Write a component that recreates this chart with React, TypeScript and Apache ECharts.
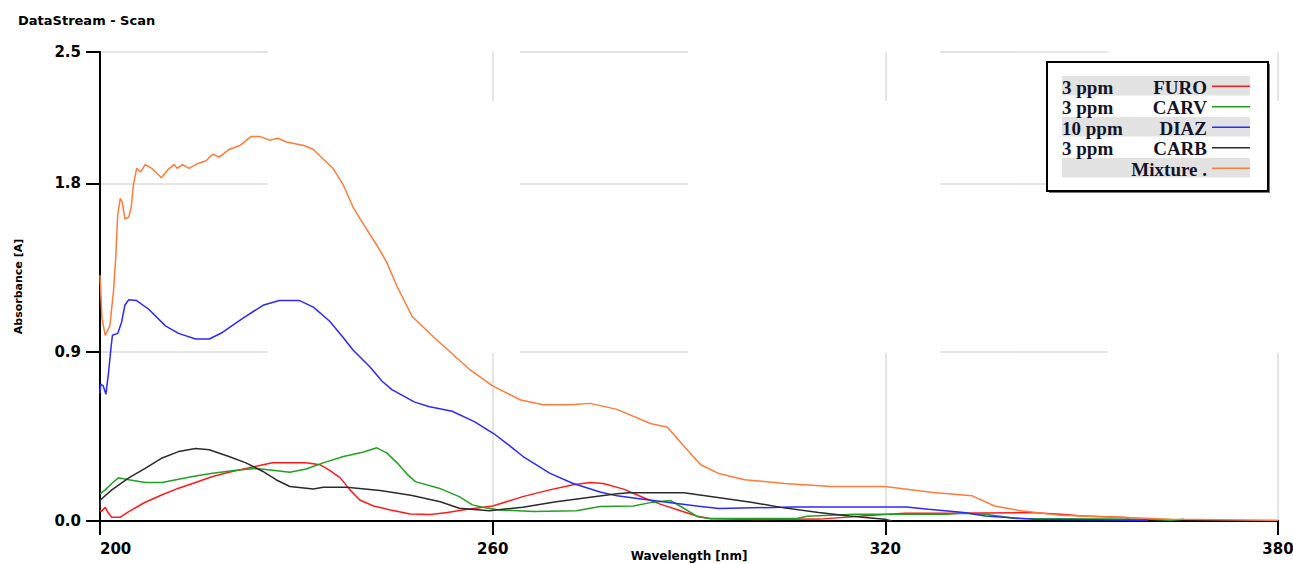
import React, { useEffect, useRef } from "react";
import * as echarts from "echarts";

const xTicks = [200, 260, 320, 380];
const yTickValues = [0, 0.9, 1.8, 2.5];

const seriesNames = ["3 ppm FURO", "3 ppm CARV", "10 ppm DIAZ", "3 ppm CARB", "Mixture ."];
const legendDose = ["3 ppm", "3 ppm", "10 ppm", "3 ppm", ""];
const legendName = ["FURO", "CARV", "DIAZ", "CARB", "Mixture ."];
const seriesColors = ["#ff1a1a", "#22a022", "#2a2aff", "#2b2b2b", "#ff7b3a"];

const furo: [number, number][] = [
  [200, 0.059], [200.15, 0.05], [200.8, 0.073], [201.3, 0.041], [201.8, 0.02], [203.1, 0.02],
  [204.4, 0.05], [206.9, 0.1], [209.5, 0.14], [212, 0.175], [214.6, 0.205], [217.2, 0.237],
  [219.7, 0.26], [222.3, 0.28], [224.9, 0.3], [226.4, 0.31], [231.5, 0.31], [233.6, 0.3],
  [235.1, 0.27], [236.7, 0.23], [238.2, 0.166], [239.7, 0.112], [241.8, 0.08], [244.4, 0.059],
  [247.4, 0.037], [250.5, 0.035], [253.1, 0.045], [255.4, 0.059], [260, 0.08], [264.6, 0.13],
  [268.7, 0.166], [272.3, 0.193], [274.9, 0.205], [276.9, 0.2], [280, 0.17], [283, 0.125],
  [285.6, 0.09], [289.4, 0.047], [291.3, 0.025], [293.3, 0.012], [300, 0.008], [310, 0.01],
  [318, 0.03], [323, 0.041], [329.3, 0.041], [342, 0.045], [346.8, 0.036], [350.1, 0.027],
  [356.8, 0.018], [357.5, 0.004],
];

const carv: [number, number][] = [
  [200, 0.145], [200.8, 0.166], [201.8, 0.2], [202.8, 0.23], [204.4, 0.22], [206.9, 0.205],
  [209.5, 0.205], [212, 0.223], [214.6, 0.24], [217.2, 0.255], [220.8, 0.27], [223.8, 0.28],
  [226.4, 0.27], [229, 0.26], [231.5, 0.277], [234.1, 0.31], [237.2, 0.344], [240.3, 0.368],
  [242.3, 0.39], [243.8, 0.363], [245.4, 0.31], [246.9, 0.25], [248.2, 0.21], [251.8, 0.175],
  [254.9, 0.13], [256.9, 0.086], [258.5, 0.073], [261, 0.059], [266.2, 0.05], [272.8, 0.055],
  [276.4, 0.077], [281.5, 0.08], [284.1, 0.098], [287.2, 0.109], [289.2, 0.068], [291.3, 0.023],
  [293.3, 0.013], [306.5, 0.013], [308, 0.025], [315.2, 0.036], [329.3, 0.036], [332, 0.041],
  [335.3, 0.036], [340, 0.013], [360.2, 0.009], [363.6, 0.004], [365.6, 0.009],
];

const diaz: [number, number][] = [
  [200, 0.68], [200.1, 0.73], [200.5, 0.72], [200.9, 0.675], [201.3, 0.79], [201.7, 0.93],
  [201.9, 0.99], [202.7, 1.0], [203.3, 1.06], [203.8, 1.15], [204.4, 1.18], [205.6, 1.175],
  [207.4, 1.13], [210, 1.04], [212, 1.0], [214.6, 0.97], [216.7, 0.97], [218.7, 1.005],
  [221.8, 1.08], [224.9, 1.15], [227.4, 1.175], [230.5, 1.175], [232.6, 1.14], [235.1, 1.065],
  [237, 0.985], [238.7, 0.91], [241.3, 0.82], [243.1, 0.745], [244.6, 0.7], [246.2, 0.67],
  [248, 0.635], [250.2, 0.61], [253.8, 0.585], [257.2, 0.53], [260.2, 0.465], [263, 0.39],
  [264.6, 0.345], [268.7, 0.255], [272.3, 0.2], [276.4, 0.155], [279, 0.134], [283, 0.116],
  [291.5, 0.078], [294.6, 0.066], [305.8, 0.075], [323.2, 0.075], [326.6, 0.0625], [332, 0.045],
  [335.3, 0.027], [342.7, 0.009], [360.2, 0.004],
];

const carb: [number, number][] = [
  [200, 0.07], [200.05, 0.112], [201.8, 0.166], [204.4, 0.23], [206.9, 0.28], [209.5, 0.336],
  [212, 0.37], [214.6, 0.386], [216.7, 0.38], [219.7, 0.344], [222.3, 0.31], [224.9, 0.264],
  [226.9, 0.22], [229, 0.184], [232.6, 0.17], [234.1, 0.18], [237.7, 0.18], [242.8, 0.162],
  [247.5, 0.137], [252, 0.103], [254.9, 0.068], [259.5, 0.055], [264.6, 0.073], [269.7, 0.103],
  [274.9, 0.127], [279, 0.145], [280.9, 0.15], [289.2, 0.15], [293.3, 0.13], [299.5, 0.1],
  [304.5, 0.07], [309.8, 0.045], [314.5, 0.027], [319.9, 0.009], [321, 0.0],
];

const mixture: [number, number][] = [
  [200, 1.31], [200.3, 1.08], [200.8, 0.99], [201.5, 1.04], [202.05, 1.22], [202.4, 1.4],
  [202.7, 1.63], [203.1, 1.72], [203.4, 1.7], [203.8, 1.61], [204.4, 1.62], [204.8, 1.68],
  [205.1, 1.79], [205.6, 1.88], [206.2, 1.86], [206.9, 1.9], [207.9, 1.88], [209.4, 1.83],
  [210.3, 1.87], [211.3, 1.9], [211.8, 1.88], [212.6, 1.9], [213.6, 1.88], [214.6, 1.9],
  [216.2, 1.92], [217.2, 1.955], [218.2, 1.94], [219.7, 1.98], [221.3, 2.0], [223.1, 2.05],
  [224.4, 2.05], [225.9, 2.03], [227.2, 2.04], [228.5, 2.02], [230, 2.01], [231.3, 2.0],
  [232.6, 1.98], [234.1, 1.93], [235.6, 1.88], [237.2, 1.79], [238.7, 1.67], [240.3, 1.58],
  [242.3, 1.47], [243.8, 1.38], [245.4, 1.25], [247.7, 1.09], [251.3, 0.97], [256.4, 0.81],
  [260, 0.72], [264.3, 0.645], [267.7, 0.62], [272, 0.62], [274.9, 0.627], [279, 0.595],
  [284.1, 0.52], [286.7, 0.5], [289.2, 0.4], [291.8, 0.3], [294.4, 0.255], [298.5, 0.22],
  [304.6, 0.2], [311.8, 0.184], [319.9, 0.184], [327.3, 0.152], [333.3, 0.134], [336.7, 0.08],
  [340.7, 0.054], [346.8, 0.03], [356.8, 0.018], [363.6, 0.009], [380, 0.004],
];

const allSeries = [furo, carv, diaz, carb, mixture];

export default function App() {
  const ref = useRef<HTMLDivElement>(null);
  useEffect(() => {
    if (!ref.current) return;
    const chart = echarts.init(ref.current, undefined, { renderer: "svg" });

    const rowTop = 76;
    const rowH = 20.5;
    const legendGraphics: any[] = [
      { type: "rect", shape: { x: 1049, y: 64, width: 221, height: 129 }, style: { fill: "#777" }, z: 10 },
      { type: "rect", shape: { x: 1047, y: 62, width: 221, height: 129 }, style: { fill: "#fff", stroke: "#000", lineWidth: 2 }, z: 11 },
    ];
    legendName.forEach((nm, i) => {
      const cy = rowTop + i * rowH + rowH / 2;
      if (i % 2 === 0) {
        legendGraphics.push({
          type: "rect",
          shape: { x: 1062, y: rowTop + i * rowH, width: 188, height: rowH - 1 },
          style: { fill: "#e2e2e2" },
          z: 12,
        });
      }
      if (legendDose[i]) {
        legendGraphics.push({
          type: "text",
          x: 1062,
          y: cy + 1,
          style: { text: legendDose[i], font: "bold 19px 'Liberation Serif', serif", fill: "#141428", textVerticalAlign: "middle", textAlign: "left" },
          z: 13,
        });
      }
      legendGraphics.push({
        type: "text",
        x: 1207,
        y: cy + 1,
        style: { text: nm, font: "bold 19px 'Liberation Serif', serif", fill: "#141428", textVerticalAlign: "middle", textAlign: "right" },
        z: 13,
      });
      legendGraphics.push({
        type: "line",
        shape: { x1: 1212, y1: cy, x2: 1250, y2: cy },
        style: { stroke: seriesColors[i], lineWidth: 1.5 },
        z: 13,
      });
    });

    chart.setOption({
      animation: false,
      backgroundColor: "#fff",
      title: {
        text: "DataStream - Scan",
        left: 13,
        top: 9,
        textStyle: { fontFamily: "DejaVu Sans", fontWeight: 900, fontSize: 13, color: "#000" },
      },
      grid: { left: 100, right: 15, top: 52, bottom: 43, containLabel: false, outerBoundsMode: "none" },
      xAxis: {
        type: "value",
        min: 200,
        max: 380,
        interval: 60,
        name: "Wavelength [nm]",
        nameLocation: "middle",
        nameGap: 29,
        nameMoveOverlap: false,
        nameTextStyle: { fontFamily: "DejaVu Sans", fontWeight: 900, fontSize: 12, color: "#000" },
        axisLine: { show: true, onZero: false, lineStyle: { color: "#000", width: 2 } },
        axisTick: { show: true, inside: false, length: 14, lineStyle: { color: "#000", width: 2 } },
        axisLabel: {
          margin: 20,
          fontFamily: "DejaVu Sans",
          fontWeight: 900,
          fontSize: 15,
          color: "#000",
          alignMinLabel: "left",
          formatter: (v: number) => (xTicks.includes(v) ? String(v) : ""),
        },
        splitLine: { show: true, lineStyle: { color: "#dcdcdc", width: 1.5, type: [168, 252], dashOffset: 119 } },
      },
      yAxis: {
        type: "value",
        min: 0,
        max: 2.5,
        interval: 0.9,
        name: "Absorbance [A]",
        nameLocation: "middle",
        nameGap: 76,
        nameRotate: 90,
        nameMoveOverlap: false,
        nameTextStyle: { fontFamily: "DejaVu Sans", fontWeight: 900, fontSize: 11, color: "#000" },
        axisLine: { show: true, onZero: false, lineStyle: { color: "#000", width: 2 } },
        axisTick: { show: true, inside: false, length: 14, lineStyle: { color: "#000", width: 2 } },
        axisLabel: {
          margin: 19,
          fontFamily: "DejaVu Sans",
          fontWeight: 900,
          fontSize: 15,
          color: "#000",
          showMaxLabel: true,
          formatter: (v: number) => {
            const hit = yTickValues.find((t) => Math.abs(t - v) < 1e-6);
            return hit === undefined ? "" : hit.toFixed(1);
          },
        },
        splitLine: { show: true, lineStyle: { color: "#dcdcdc", width: 1.5, type: [168, 252] } },
      },
      series: allSeries.map((d, i) => ({
        name: seriesNames[i],
        type: "line",
        data: d,
        showSymbol: false,
        smooth: false,
        clip: true,
        lineStyle: { color: seriesColors[i], width: 1.5 },
        itemStyle: { color: seriesColors[i] },
        z: 3 + i,
      })),
      graphic: legendGraphics,
    });
    return () => chart.dispose();
  }, []);
  return <div ref={ref} style={{ width: 1293, height: 564, position: "absolute", left: 0, top: 0 }} />;
}
